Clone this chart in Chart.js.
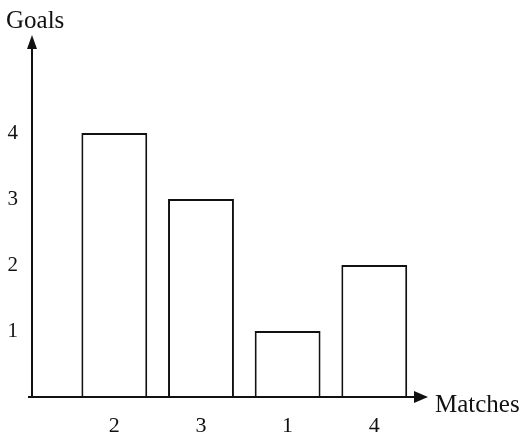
<!DOCTYPE html>
<html lang="en">
<head>
    <meta charset="UTF-8">
    <title>Goals per match</title>
    <script src="https://cdn.jsdelivr.net/npm/chart.js"></script>
    <style>
        body { margin: 0; padding: 0; background: #fff; }
        canvas { display: block; }
    </style>
</head>
<body>
    <canvas id="chart" width="523" height="437"></canvas>
    <script>
        // data
        const matches = ['2', '3', '1', '4'];
        const goals = [4, 3, 1, 2];
        const goalTicks = [1, 2, 3, 4];

        const ink = '#111';
        const serif = '"Liberation Serif", "DejaVu Serif", serif';

        // axes with arrow heads + axis names
        const axesPlugin = {
            id: 'axes',
            afterDraw(chart) {
                const { ctx, chartArea: a } = chart;
                ctx.save();
                ctx.strokeStyle = ink;
                ctx.fillStyle = ink;
                ctx.lineWidth = 2;
                ctx.beginPath();
                ctx.moveTo(a.left, a.bottom);
                ctx.lineTo(a.left, a.top);
                ctx.moveTo(a.left - 4, a.bottom);
                ctx.lineTo(a.right, a.bottom);
                ctx.stroke();
                // y arrow
                ctx.beginPath();
                ctx.moveTo(a.left, a.top - 13);
                ctx.lineTo(a.left - 5, a.top + 1);
                ctx.lineTo(a.left + 5, a.top + 1);
                ctx.closePath();
                ctx.fill();
                // x arrow
                ctx.beginPath();
                ctx.moveTo(a.right + 13, a.bottom);
                ctx.lineTo(a.right - 1, a.bottom - 6);
                ctx.lineTo(a.right - 1, a.bottom + 6);
                ctx.closePath();
                ctx.fill();

                ctx.font = '25px ' + serif;
                ctx.textBaseline = 'alphabetic';
                ctx.textAlign = 'left';
                ctx.fillText('Goals', 6, 28);
                ctx.textBaseline = 'middle';
                ctx.fillText('Matches', a.right + 20, a.bottom + 8);
                ctx.restore();
            }
        };

        new Chart(document.getElementById('chart'), {
            type: 'bar',
            data: {
                datasets: [{
                    data: matches.map((m, i) => ({ x: i + 1, y: goals[i] })),
                    backgroundColor: '#fff',
                    borderColor: ink,
                    borderWidth: 2,
                    borderSkipped: 'bottom',
                    categoryPercentage: 1,
                    barPercentage: 0.76
                }]
            },
            options: {
                responsive: false,
                animation: false,
                layout: { padding: { top: 48, right: 108, left: 0, bottom: 0 } },
                plugins: { legend: { display: false }, tooltip: { enabled: false } },
                scales: {
                    x: {
                        type: 'linear',
                        offset: false,
                        min: 0.05,
                        max: 4.47,
                        grid: { display: false },
                        border: { display: false },
                        afterFit: s => { s.height = 40; },
                        afterBuildTicks: s => { s.ticks = matches.map((m, i) => ({ value: i + 1 })); },
                        ticks: {
                            padding: 8,
                            color: ink,
                            font: { family: serif, size: 22 },
                            callback: v => matches[v - 1]
                        }
                    },
                    y: {
                        min: 0,
                        max: 5.29,
                        grid: { display: false },
                        border: { display: false },
                        afterFit: s => { s.width = 32; },
                        afterBuildTicks: s => { s.ticks = goalTicks.map(v => ({ value: v })); },
                        ticks: {
                            padding: 6,
                            color: ink,
                            font: { family: serif, size: 21 },
                            callback: v => String(v)
                        }
                    }
                }
            },
            plugins: [axesPlugin]
        });
    </script>
</body>
</html>
